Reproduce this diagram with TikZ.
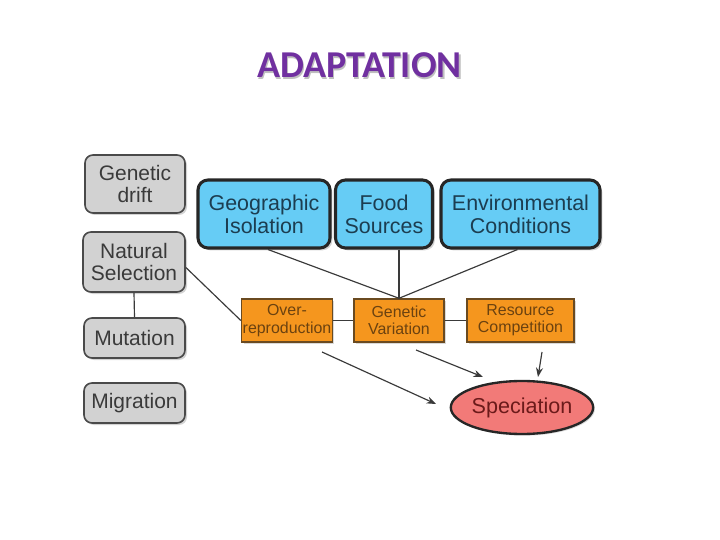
\documentclass[tikz,border=0pt]{standalone}
\usepackage{fontspec}
\setmainfont{Liberation Sans}
\newfontfamily\titlefont{Carlito}
\usetikzlibrary{shapes.geometric,arrows.meta,shadows}
\definecolor{titlepurple}{HTML}{7030A0}
\definecolor{graybox}{HTML}{D2D2D2}
\definecolor{grayline}{HTML}{4A4A4A}
\definecolor{graytext}{HTML}{3A3A3A}
\definecolor{bluebox}{HTML}{66CCF5}
\definecolor{bluetext}{HTML}{1C3D50}
\definecolor{orangebox}{HTML}{F5961E}
\definecolor{orangeline}{HTML}{6A4A20}
\definecolor{orangetext}{HTML}{6B4210}
\definecolor{pinkfill}{HTML}{F27A78}
\definecolor{pinktext}{HTML}{6B1A1A}
\definecolor{conn}{HTML}{3A3A3A}
\tikzset{
  graynode/.style={rectangle, rounded corners=8*0.03cm, fill=graybox, draw=grayline,
    line width=1.4pt, text=graytext, align=center,
    font=\fontsize{17.9}{18.8}\selectfont,
    drop shadow={shadow xshift=0.06cm, shadow yshift=-0.06cm, opacity=0.35}},
  bluenode/.style={rectangle, rounded corners=10*0.03cm, fill=bluebox, draw=black!85,
    line width=2.6pt, text=bluetext, align=center,
    font=\fontsize{18.3}{19.6}\selectfont,
    drop shadow={shadow xshift=0.07cm, shadow yshift=-0.07cm, opacity=0.35}},
  orangenode/.style={rectangle, fill=orangebox, draw=orangeline, line width=1.2pt,
    text=orangetext, align=center, font=\fontsize{13.6}{14.8}\selectfont, inner xsep=1pt,
    drop shadow={shadow xshift=0.06cm, shadow yshift=-0.06cm, opacity=0.3}},
  specnode/.style={ellipse, fill=pinkfill, draw=black!85, line width=2pt,
    text=pinktext, font=\fontsize{18.4}{20}\selectfont, inner sep=0pt,
    drop shadow={shadow xshift=0.05cm, shadow yshift=-0.05cm, opacity=0.3}},
  link/.style={draw=conn, line width=1pt},
  arrowlink/.style={draw=conn, line width=1pt, -{Stealth[length=8pt,width=6pt]}}
}
\begin{document}
\begin{tikzpicture}[x=0.03cm, y=-0.03cm]
\useasboundingbox (0,0) rectangle (720,540);
% title
\node[anchor=base, font=\titlefont\bfseries\fontsize{32.4}{36}\selectfont, text=black!25] at (360.8,79.2) {ADAPTATION};
\node[anchor=base, font=\titlefont\bfseries\fontsize{32.4}{36}\selectfont, text=titlepurple] (title) at (359.5,78) {ADAPTATION};
% gray boxes
\node[graynode, minimum width=3.0cm, minimum height=1.74cm] (drift) at (135,184) {Genetic\\drift};
\node[graynode, minimum width=3.06cm, minimum height=1.8cm] (natsel) at (134,262) {Natural\\Selection};
\node[graynode, minimum width=3.03cm, minimum height=1.2cm] (mut) at (134.5,338) {Mutation};
\node[graynode, minimum width=3.03cm, minimum height=1.2cm] (mig) at (134.5,403) {Migration};
% blue boxes
\node[bluenode, minimum width=3.96cm, minimum height=2.04cm] (geo) at (264,214) {Geographic\\Isolation};
\node[bluenode, minimum width=2.91cm, minimum height=2.04cm] (food) at (384,214) {Food\\Sources};
\node[bluenode, minimum width=4.77cm, minimum height=2.04cm] (env) at (520.5,214) {Environmental\\Conditions};
% orange boxes
\node[orangenode, minimum width=2.7cm, minimum height=1.29cm] (over) at (287,320.5) {Over-\\reproduction};
\node[orangenode, minimum width=2.7cm, minimum height=1.29cm] (gen) at (399,320.5) {Genetic\\Variation};
\node[orangenode, minimum width=3.21cm, minimum height=1.29cm] (res) at (520.5,320.5) {Resource\\Competition};
% speciation
\node[specnode, minimum width=4.2cm, minimum height=1.59cm] (spec) at (522,407.5) {Speciation};
% connectors
\draw[link] (natsel.south) -- (mut.north);
\draw[link] (natsel.-6) -- (over.west);
\draw[link] (over.east) -- (gen.west);
\draw[link] (gen.east) -- (res.west);
\draw[link] ([xshift=0.12cm]geo.south) -- (gen.north);
\draw[link] (gen.north |- food.south) -- (gen.north);
\draw[link] ([xshift=-0.09cm]env.south) -- (gen.north);
% arrows
\coordinate (a1s) at (322,352);
\coordinate (a1e) at (436,404);
\coordinate (a2s) at (416,350);
\coordinate (a2e) at (483,377);
\coordinate (a3s) at (542,352);
\coordinate (a3e) at (538,377);
\draw[arrowlink] (a1s) -- (a1e);
\draw[arrowlink] (a2s) -- (a2e);
\draw[arrowlink] (a3s) -- (a3e);
\end{tikzpicture}
\end{document}
